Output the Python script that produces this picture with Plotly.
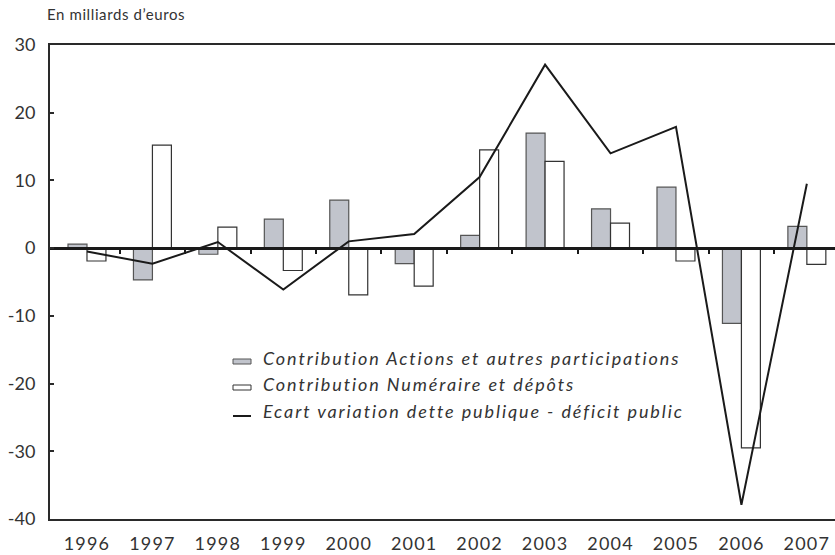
import plotly.graph_objects as go

# Years and series (billions of euros)
years = ["1996", "1997", "1998", "1999", "2000", "2001",
         "2002", "2003", "2004", "2005", "2006", "2007"]
actions = [0.6, -4.7, -0.9, 4.3, 7.1, -2.3, 1.9, 17.0, 5.8, 9.0, -11.1, 3.2]
numeraire = [-1.9, 15.2, 3.1, -3.3, -6.9, -5.6, 14.5, 12.8, 3.7, -1.9, -29.5, -2.4]
ecart = [-0.5, -2.3, 0.9, -6.1, 1.0, 2.1, 10.5, 27.1, 14.0, 17.9, -37.9, 9.5]

y_tickvals = [-40, -30, -20, -10, 0, 10, 20, 30]
y_ticktext = ["-40", "-30", "-20", "-10", "0", "10", "20", "30"]

legend_labels = [
    "Contribution Actions et autres participations",
    "Contribution Numéraire et dépôts",
    "Ecart variation dette publique - déficit public",
]

FONT = "Lato"
INK = "#333333"
GREY_FILL = "#c1c4cc"

W, H = 835, 555
ML, MR, MT, MB = 50, 0, 45, 36
PW, PH = W - ML - MR, H - MT - MB
XRANGE = [-0.565, 11.43]
YRANGE = [-40, 30]


def px_x(px):
    return (px - ML) / PW


def px_y(py):
    return (H - MB - py) / PH


def spaced(text, px):
    return '<span style="letter-spacing:%spx">%s</span>' % (px, text)


fig = go.Figure()

fig.add_trace(go.Bar(
    x=years, y=actions, name=legend_labels[0],
    marker=dict(color=GREY_FILL, line=dict(color="#555555", width=1.2)),
))
fig.add_trace(go.Bar(
    x=years, y=numeraire, name=legend_labels[1],
    marker=dict(color="white", line=dict(color="#333333", width=1.2)),
))
fig.add_trace(go.Scatter(
    x=years, y=ecart, name=legend_labels[2], mode="lines",
    line=dict(color="#1a1a1a", width=2),
))
# empty trace carrying the zero-level axis with category boundary ticks
fig.add_trace(go.Scatter(x=[None], y=[None], xaxis="x2", showlegend=False,
                         hoverinfo="skip"))

tick_font = dict(size=18, family=FONT, color=INK, weight=400)

fig.update_layout(
    width=W, height=H,
    margin=dict(l=ML, r=MR, t=MT, b=MB),
    paper_bgcolor="white", plot_bgcolor="white",
    barmode="group", bargap=0.42, bargroupgap=0,
    showlegend=False,
    font=dict(family=FONT, color=INK),
    title=dict(
        text=spaced("En milliards d’euros", 0.6), xref="container", yref="container",
        x=47 / W, xanchor="left", y=1 - 15 / H, yanchor="middle",
        font=dict(size=15, family=FONT, color=INK, weight=400),
        pad=dict(l=0, r=0, t=0, b=0),
    ),
    xaxis=dict(
        type="category", range=XRANGE,
        tickmode="array", tickvals=years,
        ticktext=[spaced(y, 1.2) for y in years],
        showline=True, mirror=True, linecolor="#2a2a2a", linewidth=2,
        ticks="", showgrid=False, zeroline=False,
        tickfont=tick_font,
        ticklabelstandoff=7,
    ),
    xaxis2=dict(
        overlaying="x", anchor="free", position=(0 - YRANGE[0]) / (YRANGE[1] - YRANGE[0]),
        range=XRANGE, showline=True, linecolor="#1a1a1a", linewidth=2.5,
        tickmode="array", tickvals=[i + 0.5 for i in range(len(years) - 1)],
        ticks="outside", ticklen=4, tickwidth=1.5, tickcolor="#1a1a1a",
        showticklabels=False, showgrid=False, zeroline=False,
    ),
    yaxis=dict(
        range=YRANGE, tickmode="array",
        tickvals=y_tickvals, ticktext=y_ticktext,
        showline=True, linecolor="#2a2a2a", linewidth=2,
        ticks="inside", ticklen=4, tickwidth=1.5, tickcolor="#2a2a2a",
        showgrid=False, zeroline=False,
        tickfont=tick_font,
        ticklabelstandoff=9,
    ),
)

# legend drawn as swatches + italic text
rows_y = [358, 384, 411]
sw_x0, sw_x1 = 233, 251
for i, (label, ry) in enumerate(zip(legend_labels, rows_y)):
    if i < 2:
        fig.add_shape(
            type="rect", xref="paper", yref="paper",
            x0=px_x(sw_x0), x1=px_x(sw_x1), y0=px_y(ry + 6), y1=px_y(ry + 1),
            fillcolor=GREY_FILL if i == 0 else "white",
            line=dict(color="#555555" if i == 0 else "#333333", width=1),
        )
    else:
        fig.add_shape(
            type="line", xref="paper", yref="paper",
            x0=px_x(sw_x0), x1=px_x(sw_x1), y0=px_y(ry + 5), y1=px_y(ry + 5),
            line=dict(color="#1a1a1a", width=2),
        )
    fig.add_annotation(
        text=spaced(label, 1.9),
        xref="paper", yref="paper",
        x=px_x(261), y=px_y(ry), xanchor="left", yanchor="middle",
        showarrow=False,
        font=dict(size=18, family=FONT, color=INK, style="italic", weight=400),
    )

fig.write_html("out.html")
